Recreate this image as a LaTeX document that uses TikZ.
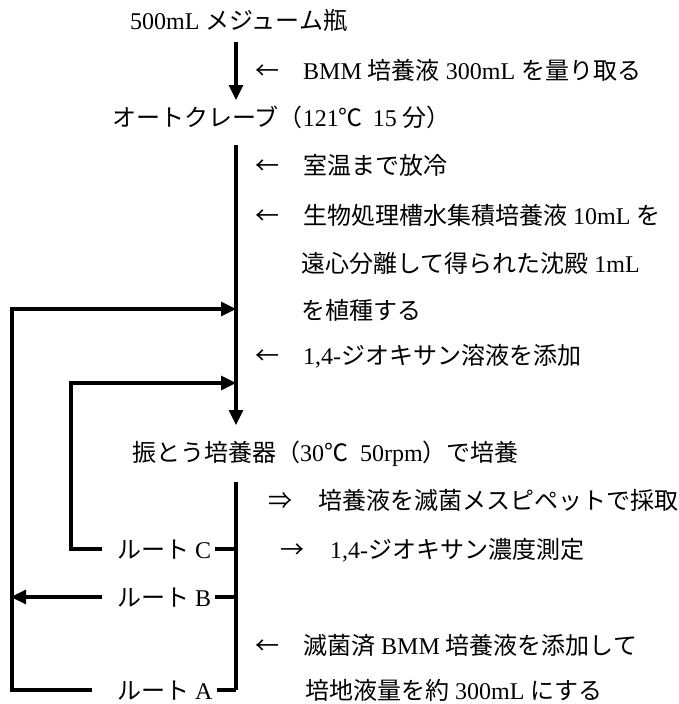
\documentclass[tikz,border=0pt]{standalone}
\usepackage{fontspec}
\setmainfont{Liberation Serif}
\newfontfamily\jp{Noto Sans CJK JP}
\usetikzlibrary{arrows.meta}
\begin{document}
\begin{tikzpicture}[x=1pt,y=-1pt,
  txt/.style={anchor=west, inner sep=0pt, text height=21pt, text depth=3pt, font=\fontsize{24}{28}\selectfont},
  ln/.style={line width=3.2pt, line join=miter},
  arr/.style={ln, -{Triangle[length=15pt,width=14pt]}}]
\useasboundingbox (0,0) rectangle (678,704);
% texts
\node[txt] (bottle) at (130,20) {500mL {\jp メジューム瓶}};
\node[txt] (n1) at (255,70) {{\jp ←}\hspace{24pt}BMM {\jp 培養液} 300mL {\jp を量り取る}};
\node[txt] (auto) at (112,117) {{\jp オートクレーブ（}121{\jp ℃}\hspace{10pt}15 {\jp 分）}};
\node[txt] (n2) at (255,165) {{\jp ←}\hspace{24pt}{\jp 室温まで放冷}};
\node[txt] (n3) at (255,215) {{\jp ←}\hspace{24pt}{\jp 生物処理槽水集積培養液} 10mL {\jp を}};
\node[txt] (n3b) at (301,263) {{\jp 遠心分離して得られた沈殿} 1mL};
\node[txt] (n3c) at (301,310) {{\jp を植種する}};
\node[txt] (n4) at (255,355) {{\jp ←}\hspace{24pt}1,4-{\jp ジオキサン溶液を添加}};
\node[txt] (shake) at (132,452) {{\jp 振とう培養器（}30{\jp ℃}\hspace{12pt}50rpm{\jp ）で培養}};
\node[txt] (n5) at (268,500) {{\jp ⇒}\hspace{26pt}{\jp 培養液を滅菌メスピペットで採取}};
\node[txt] (routeC) at (117,549) {{\jp ルート} C};
\node[txt] (n6) at (280,549) {{\jp →}\hspace{26pt}1,4-{\jp ジオキサン濃度測定}};
\node[txt] (routeB) at (117,597) {{\jp ルート} B};
\node[txt] (n7) at (255,645) {{\jp ←}\hspace{24pt}{\jp 滅菌済} BMM {\jp 培養液を添加して}};
\node[txt] (n7b) at (305,690) {{\jp 培地液量を約} 300mL {\jp にする}};
\node[txt] (routeA) at (117,690) {{\jp ルート} A};
% joints
\coordinate (a1s) at (236,42);
\coordinate (a1e) at (236,100);
\coordinate (m2s) at (236,145);
\coordinate (m2e) at (236,425);
\coordinate (cA) at (12,309);
\coordinate (jA) at (236,309);
\coordinate (cC) at (71,383);
\coordinate (jC) at (236,383);
\coordinate (bB) at (11,597);
\coordinate (bk1) at (236,482);
\coordinate (bk2) at (236,690);
% connectors
\draw[arr] (a1s) -- (a1e);
\draw[arr] (m2s) -- (m2e);
\draw[arr] ([xshift=-25pt]routeA.west) -| (cA) -- (jA);
\draw[arr] ([xshift=-15pt]routeC.west) -| (cC) -- (jC);
\draw[arr] ([xshift=-15pt]routeB.west) -- (bB);
\draw[ln] (bk1) -- (bk2);
\draw[ln] ([xshift=4pt]routeC.east) -- (routeC.east -| bk1);
\draw[ln] ([xshift=4pt]routeB.east) -- (routeB.east -| bk1);
\draw[ln] ([xshift=4pt]routeA.east) -- (routeA.east -| bk1);
\end{tikzpicture}
\end{document}
